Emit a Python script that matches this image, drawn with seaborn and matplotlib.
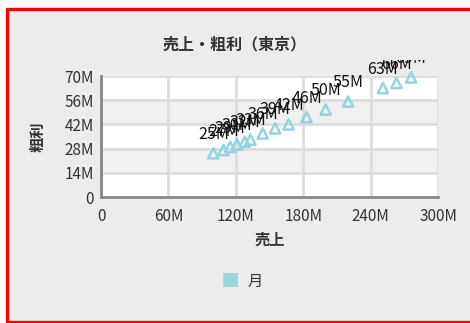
import matplotlib
matplotlib.use("Agg")
import matplotlib.pyplot as plt
from matplotlib.patches import Patch, Rectangle
from matplotlib.transforms import Bbox
import seaborn as sns

# monthly sales / gross profit (Tokyo), millions of yen
sales = [100, 109, 115, 121, 128, 133, 144, 155, 167, 183, 200, 220, 251, 263, 276]
profit = [25.3, 27.2, 29.0, 30.4, 32.0, 33.2, 36.8, 39.7, 42.0, 46.2, 50.6, 55.2, 63.0, 66.0, 69.2]
point_labels = [f"{int(p)}M" for p in profit]

x_ticks = [0, 60, 120, 180, 240, 300]
y_ticks = [0, 14, 28, 42, 56, 70]

TEAL = "#93d5de"
TXT = "#333333"

sns.set_theme(style="white")
plt.rcParams["font.family"] = ["Noto Sans CJK JP", "DejaVu Sans"]

fig = plt.figure(figsize=(4.7, 3.23), dpi=100, facecolor="white")
# panel background with red frame
fig.patches.append(Rectangle((7 / 470, 1.5 / 323), 470, 313 / 323, transform=fig.transFigure,
                             facecolor="#ececec", edgecolor="red", linewidth=2.4, zorder=-10))

ax = fig.add_axes([101 / 470, 1 - 197 / 323, 337 / 470, 121 / 323])
ax.set_facecolor("white")
for lo in (14, 42):
    ax.axhspan(lo, lo + 14, color="#f0f0f0", zorder=0)

sns.scatterplot(x=sales, y=profit, marker="^", s=55, ax=ax,
                facecolors="none", edgecolors=TEAL, linewidth=1.8, zorder=3, clip_on=False)

clip = Bbox([[0, 0], [470, 323 - 60]])
for x, y, lab in zip(sales, profit, point_labels):
    t = ax.annotate(lab, (x, y), xytext=(0, 13.5), textcoords="offset points",
                    ha="center", va="center", fontsize=11.5, color="#111111",
                    annotation_clip=False, zorder=4)
    t.set_clip_box(clip)
    t.set_clip_on(True)

ax.set_xlim(0, 300)
ax.set_ylim(0, 70)
ax.set_xticks(x_ticks)
ax.set_yticks(y_ticks)
ax.set_xticklabels([f"{v}M" if v else "0" for v in x_ticks], fontsize=11, color=TXT)
ax.set_yticklabels([f"{v}M" if v else "0" for v in y_ticks], fontsize=11, color=TXT)
ax.tick_params(axis="x", length=0, pad=8)
ax.tick_params(axis="y", length=0, pad=5)
ax.grid(True, color="#dddddd", linewidth=2)
ax.set_axisbelow(True)
for side in ("top", "right"):
    ax.spines[side].set_visible(False)
for side in ("left", "bottom"):
    ax.spines[side].set_color("#888888")
    ax.spines[side].set_linewidth(2)

ax.set_xlabel("売上", fontsize=11, fontweight="bold", color=TXT, labelpad=5)
ax.set_ylabel("粗利", fontsize=11, fontweight="bold", color=TXT, labelpad=14)

fig.text(235 / 470, 1 - 44 / 323, "売上・粗利（東京）", ha="center", va="center",
         fontsize=11.5, fontweight="bold", color=TXT)

fig.legend(handles=[Patch(facecolor="#9ad8e0", edgecolor="none", label="月")],
           loc="center", bbox_to_anchor=(243 / 470, 1 - 281 / 323), frameon=False,
           fontsize=11, handlelength=1.0, handleheight=1.0, handletextpad=0.6,
           labelcolor=TXT)

fig.savefig("out.png", dpi=100, facecolor=fig.get_facecolor())
